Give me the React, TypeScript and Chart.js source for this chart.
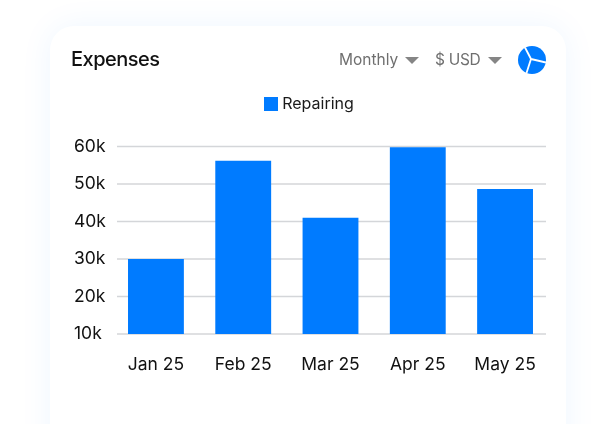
import React, { useEffect, useRef } from "react";
import { Chart, registerables } from "chart.js";

Chart.register(...registerables);

const categories = ["Jan 25", "Feb 25", "Mar 25", "Apr 25", "May 25"];
const repairing = [30000, 56200, 41000, 59800, 48700];
const seriesName = "Repairing";
const BLUE = "#007bff";
const FONT = "Inter, Roboto, sans-serif";

const gridPlugin = {
  id: "insetGrid",
  beforeInit(chart: any) {
    const fit = chart.legend.fit;
    chart.legend.fit = function () {
      fit.call(this);
      this.height += 24.5;
    };
  },
  beforeDatasetsDraw(chart: any) {
    const { ctx, scales } = chart;
    ctx.save();
    ctx.strokeStyle = "#d4d6d9";
    ctx.lineWidth = 1.4;
    scales.y.ticks.forEach((_: any, i: number) => {
      const y = scales.y.getPixelForTick(i);
      ctx.beginPath();
      ctx.moveTo(117, y);
      ctx.lineTo(546, y);
      ctx.stroke();
    });
    ctx.restore();
  },
};

const spacerAxis = (position: string, width: number, weight: number) => ({
  position,
  weight,
  display: true,
  grid: { display: false, drawTicks: false },
  border: { display: false },
  ticks: { display: false },
  afterFit: (s: any) => { s.width = width; },
});

export default function App() {
  const ref = useRef<HTMLCanvasElement>(null);
  useEffect(() => {
    document.body.style.margin = "0";
    document.body.style.background = "#fff";
    const swatch = document.createElement("canvas");
    swatch.width = 14;
    swatch.height = 14;
    const sctx = swatch.getContext("2d")!;
    sctx.fillStyle = BLUE;
    sctx.fillRect(0, 0, 14, 14);
    const chart = new Chart(ref.current!, {
      type: "bar",
      data: {
        labels: categories,
        datasets: [{ label: seriesName, data: repairing, backgroundColor: BLUE, borderWidth: 0, barPercentage: 1, categoryPercentage: 0.64 }],
      },
      options: {
        animation: false,
        responsive: false,
        layout: { padding: { top: 96, right: 0, bottom: 0, left: 6 } },
        plugins: {
          tooltip: { enabled: false },
          legend: {
            position: "top",
            labels: { usePointStyle: true, pointStyle: swatch, pointStyleWidth: 6, padding: 0, color: "#1a1a1a", font: { family: FONT, size: 16 } },
          },
        },
        scales: {
          x: {
            grid: { display: false },
            border: { display: false },
            ticks: { color: "#111", padding: 12, font: { family: FONT, size: 17.5 }, maxRotation: 0 },
            afterFit: (s: any) => { s.height = 90; },
          },
          y: {
            min: 10000,
            max: 60000,
            weight: 0,
            grid: { display: false, drawTicks: false },
            border: { display: false },
            afterFit: (s: any) => { s.width = 38.3; },
            ticks: {
              stepSize: 10000,
              color: "#111",
              padding: 5,
              crossAlign: "far",
              font: { family: FONT, size: 17.5 },
              callback: (v: any) => Number(v) / 1000 + "k",
            },
          },
          leftSpacer: spacerAxis("left", 68, 10),
          rightSpacer: spacerAxis("right", 67.3, 0),
        },
      },
      plugins: [gridPlugin],
    } as any);
    return () => chart.destroy();
  }, []);

  const ctl: React.CSSProperties = { position: "absolute", top: 50, fontFamily: FONT, fontSize: 15.5, color: "#6f6f6f", lineHeight: "20px" };
  const tri = (left: number) => (
    <div style={{ position: "absolute", left, top: 57, width: 0, height: 0, borderLeft: "7px solid transparent", borderRight: "7px solid transparent", borderTop: "7px solid #858585" }} />
  );
  return (
    <div style={{ position: "relative", width: 616, height: 424, overflow: "hidden", background: "#fff" }}>
      <div style={{ position: "absolute", left: 50, top: 26, width: 516, height: 460, background: "#fff", borderRadius: 24, boxShadow: "0 0 32px rgba(0,123,255,0.07)" }} />
      <canvas ref={ref} width={616} height={424} style={{ position: "absolute", left: 0, top: 0, display: "block" }} />
      <div style={{ position: "absolute", left: 71, top: 46, fontFamily: FONT, fontSize: 20, fontWeight: 500, color: "#111", lineHeight: "26px", letterSpacing: -0.5 }}>Expenses</div>
      <div style={{ ...ctl, left: 339 }}>Monthly</div>
      {tri(405)}
      <div style={{ ...ctl, left: 435, letterSpacing: -0.3 }}>$ USD</div>
      {tri(488)}
      <svg width="28" height="28" viewBox="0 0 28 28" style={{ position: "absolute", left: 517.5, top: 46 }}>
        <circle cx="14" cy="14" r="14" fill={BLUE} />
        <path d="M13 13 L7 1.5 M13 13 L28 16.5 M13 13 L8.5 27" stroke="#fff" strokeWidth="1.8" fill="none" />
      </svg>
    </div>
  );
}
